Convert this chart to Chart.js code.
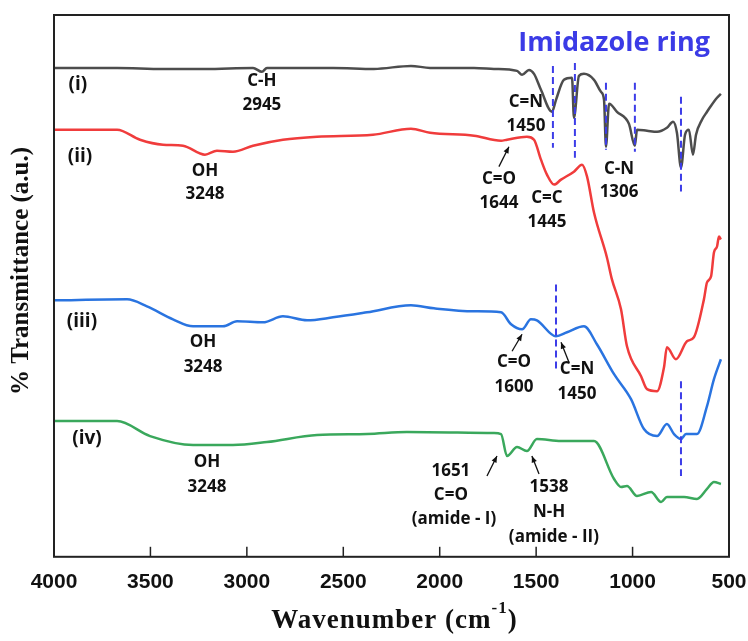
<!DOCTYPE html>
<html>
<head>
<meta charset="utf-8">
<script src="https://cdn.jsdelivr.net/npm/chart.js@4.4.1/dist/chart.umd.min.js"></script>
<style>
  html, body { margin: 0; padding: 0; background: #fff; }
  #wrap { width: 748px; height: 641px; }
</style>
</head>
<body>
<div id="wrap"><canvas id="ftir"></canvas></div>
<script>
// FTIR spectra, stacked (arbitrary transmittance units)
const waveI = [4000, 3673, 3435, 3217, 2968, 2922, 2896, 2553, 2341, 2149, 2050, 1822, 1719, 1599, 1573, 1537, 1511, 1475, 1418, 1397, 1356, 1314, 1304, 1278, 1252, 1200, 1164, 1148, 1138, 1122, 1081, 1019, 988, 977, 925, 873, 822, 790, 770, 749, 728, 708, 687, 671, 640, 614, 593, 562, 542];
const transI = [490, 490, 489, 489, 490, 486, 490, 490, 489, 492, 490, 490, 489, 487, 483, 488, 484, 468, 446, 458, 478, 480, 440, 482, 484, 478, 466, 458, 411, 454, 446, 434, 412, 428, 427, 426, 430, 436, 425, 390, 423, 428, 403, 423, 438, 446, 452, 460, 464];

const waveII = [4000, 3673, 3554, 3435, 3331, 3217, 3155, 3072, 2968, 2813, 2636, 2346, 2149, 2050, 1822, 1682, 1651, 1548, 1511, 1475, 1444, 1407, 1371, 1304, 1262, 1236, 1200, 1133, 1107, 1060, 1029, 956, 925, 873, 837, 822, 775, 718, 682, 630, 614, 593, 578, 562, 552, 542];
const transII = [428, 428, 418, 413, 412, 403, 407, 406, 412, 418, 421, 423, 429, 425, 422, 417, 418, 421, 418, 398, 383, 373, 378, 386, 393, 381, 345, 300, 278, 248, 211, 181, 168, 166, 190, 210, 198, 216, 220, 258, 275, 281, 305, 311, 321, 318];

const waveIII = [4000, 3621, 3518, 3383, 3279, 3124, 3051, 2916, 2813, 2688, 2553, 2377, 2149, 2030, 1822, 1682, 1630, 1573, 1527, 1496, 1397, 1340, 1252, 1185, 1096, 1008, 941, 873, 822, 785, 749, 723, 666, 614, 578, 542];
const transIII = [257, 258, 251, 238, 231, 231, 236, 235, 241, 237, 240, 245, 252, 249, 246, 245, 233, 228, 238, 237, 221, 225, 231, 213, 183, 158, 128, 121, 133, 123, 118, 123, 123, 151, 178, 198];

const waveIV = [4000, 3673, 3502, 3279, 3072, 2896, 2636, 2377, 2170, 1719, 1682, 1651, 1599, 1548, 1496, 1371, 1200, 1096, 1060, 1029, 977, 904, 852, 822, 733, 666, 614, 578, 542];
const transIV = [136, 136, 121, 112, 112, 115, 122, 123, 125, 124, 123, 101, 110, 106, 118, 116, 116, 78, 70, 71, 61, 65, 55, 60, 60, 58, 68, 75, 73];

const xTicks = [4000, 3500, 3000, 2500, 2000, 1500, 1000, 500];

// imidazole ring markers: [wavenumber, from, to]
const ringMarks = [[1413, 492, 410], [1299, 495, 400], [1138, 475, 408], [988, 475, 406], [749, 461, 366], [1397, 273, 188], [749, 176, 81]];

// peak labels: [text, wavenumber, value, kind]
const labels = [
  ['(i)', 3876, 473, 'tag'], ['(ii)', 3865, 401, 'tag'], ['(iii)', 3855, 236, 'tag'], ['(iv)', 3829, 118, 'tag'],
  ['Imidazole ring', 1096, 515, 'ring'],
  ['C-H', 2922, 477], ['2945', 2922, 453],
  ['OH', 3217, 386], ['3248', 3217, 363],
  ['OH', 3227, 215], ['3248', 3227, 190],
  ['OH', 3207, 95], ['3248', 3207, 70],
  ['C=N', 1553, 456], ['1450', 1553, 432],
  ['C=O', 1693, 378], ['1644', 1693, 354],
  ['C=C', 1444, 359], ['1445', 1444, 335],
  ['C-N', 1070, 389], ['1306', 1070, 365],
  ['C=O', 1615, 195], ['1600', 1615, 170],
  ['C=N', 1288, 188], ['1450', 1288, 163],
  ['1651', 1942, 86], ['C=O', 1942, 62], ['(amide - I)', 1926, 38],
  ['1538', 1433, 70], ['N-H', 1433, 45], ['(amide - II)', 1408, 20]
];

// arrows: [fromWave, fromValue, toWave, toValue]
const arrows = [[1693, 391, 1641, 411], [1625, 206, 1573, 223], [1330, 195, 1371, 215], [1755, 81, 1703, 101], [1485, 83, 1522, 101]];

const decorations = {
  id: 'decorations',
  afterDatasetsDraw(chart) {
    const { ctx, chartArea: a, scales: { x, y } } = chart;
    ctx.save();

    // dashed markers
    ctx.strokeStyle = '#3d3de8';
    ctx.lineWidth = 2;
    ctx.setLineDash([7, 4]);
    ringMarks.forEach(m => {
      const px = x.getPixelForValue(m[0]);
      ctx.beginPath();
      ctx.moveTo(px, y.getPixelForValue(m[1]));
      ctx.lineTo(px, y.getPixelForValue(m[2]));
      ctx.stroke();
    });
    ctx.setLineDash([]);

    // arrows
    ctx.strokeStyle = '#111';
    ctx.fillStyle = '#111';
    ctx.lineWidth = 1.3;
    arrows.forEach(r => {
      const x1 = x.getPixelForValue(r[0]), y1 = y.getPixelForValue(r[1]);
      const x2 = x.getPixelForValue(r[2]), y2 = y.getPixelForValue(r[3]);
      const ang = Math.atan2(y2 - y1, x2 - x1);
      ctx.beginPath(); ctx.moveTo(x1, y1); ctx.lineTo(x2, y2); ctx.stroke();
      ctx.beginPath();
      ctx.moveTo(x2, y2);
      ctx.lineTo(x2 - 7 * Math.cos(ang - 0.4), y2 - 7 * Math.sin(ang - 0.4));
      ctx.lineTo(x2 - 7 * Math.cos(ang + 0.4), y2 - 7 * Math.sin(ang + 0.4));
      ctx.closePath(); ctx.fill();
    });

    // text
    ctx.textAlign = 'center';
    ctx.textBaseline = 'middle';
    labels.forEach(l => {
      if (l[3] === 'ring') { ctx.font = 'bold 27px "Open Sans"'; ctx.fillStyle = '#3b3be6'; }
      else if (l[3] === 'tag') { ctx.font = 'bold 19px "Open Sans"'; ctx.fillStyle = '#111'; }
      else { ctx.font = 'bold 17px "Open Sans"'; ctx.fillStyle = '#111'; }
      ctx.fillText(l[0], x.getPixelForValue(l[1]), y.getPixelForValue(l[2]));
    });

    // frame + inward ticks
    ctx.strokeStyle = '#222';
    ctx.lineWidth = 2;
    ctx.strokeRect(a.left, a.top, a.right - a.left, a.bottom - a.top);
    ctx.lineWidth = 1.5;
    xTicks.forEach(t => {
      const px = x.getPixelForValue(t);
      ctx.beginPath(); ctx.moveTo(px, a.bottom); ctx.lineTo(px, a.bottom - 10); ctx.stroke();
    });

    // axis titles
    ctx.fillStyle = '#111';
    ctx.font = 'bold 27px "Liberation Serif"';
    ctx.letterSpacing = '1px';
    ctx.textBaseline = 'alphabetic';
    const tx = (a.left + a.right) / 2 + 3;
    const main = 'Wavenumber (cm';
    const wMain = ctx.measureText(main).width;
    ctx.font = 'bold 17px "Liberation Serif"';
    const wSup = ctx.measureText('-1').width;
    ctx.font = 'bold 27px "Liberation Serif"';
    const wEnd = ctx.measureText(')').width;
    let sx = tx - (wMain + wSup + wEnd) / 2;
    ctx.textAlign = 'left';
    ctx.fillText(main, sx, 628);
    ctx.font = 'bold 17px "Liberation Serif"';
    ctx.fillText('-1', sx + wMain, 613);
    ctx.font = 'bold 27px "Liberation Serif"';
    ctx.fillText(')', sx + wMain + wSup, 628);

    ctx.translate(22, 271);
    ctx.rotate(-Math.PI / 2);
    ctx.textAlign = 'center';
    ctx.textBaseline = 'middle';
    ctx.letterSpacing = '0px';
    ctx.font = 'bold 25px "Liberation Serif"';
    ctx.fillText('% Transmittance (a.u.)', 0, 0);
    ctx.restore();
  }
};

const series = [
  { wave: waveI, trans: transI, color: '#4d4d4d' },
  { wave: waveII, trans: transII, color: '#f03c3c' },
  { wave: waveIII, trans: transIII, color: '#2a74e0' },
  { wave: waveIV, trans: transIV, color: '#3aa85c' }
];

new Chart(document.getElementById('ftir'), {
  type: 'line',
  data: {
    datasets: series.map(s => ({
      data: s.wave.map((w, i) => ({ x: w, y: s.trans[i] })),
      borderColor: s.color,
      borderWidth: 2.5,
      pointRadius: 0,
      cubicInterpolationMode: 'monotone',
      fill: false
    }))
  },
  options: {
    responsive: true,
    maintainAspectRatio: false,
    animation: false,
    layout: { padding: { left: 54, right: 19, top: 15, bottom: 33 } },
    plugins: { legend: { display: false }, tooltip: { enabled: false } },
    scales: {
      x: {
        type: 'linear',
        reverse: true,
        min: 500,
        max: 4000,
        grid: { display: false, drawTicks: false },
        border: { display: false },
        afterFit(scale) { scale.paddingLeft = 0; scale.paddingRight = 0; },
        ticks: {
          stepSize: 500,
          padding: 13,
          color: '#111',
          font: { family: 'Liberation Sans', weight: 'bold', size: 21 },
          callback: v => String(v)
        }
      },
      y: { display: false, min: 0, max: 543 }
    }
  },
  plugins: [decorations]
});
</script>
</body>
</html>
